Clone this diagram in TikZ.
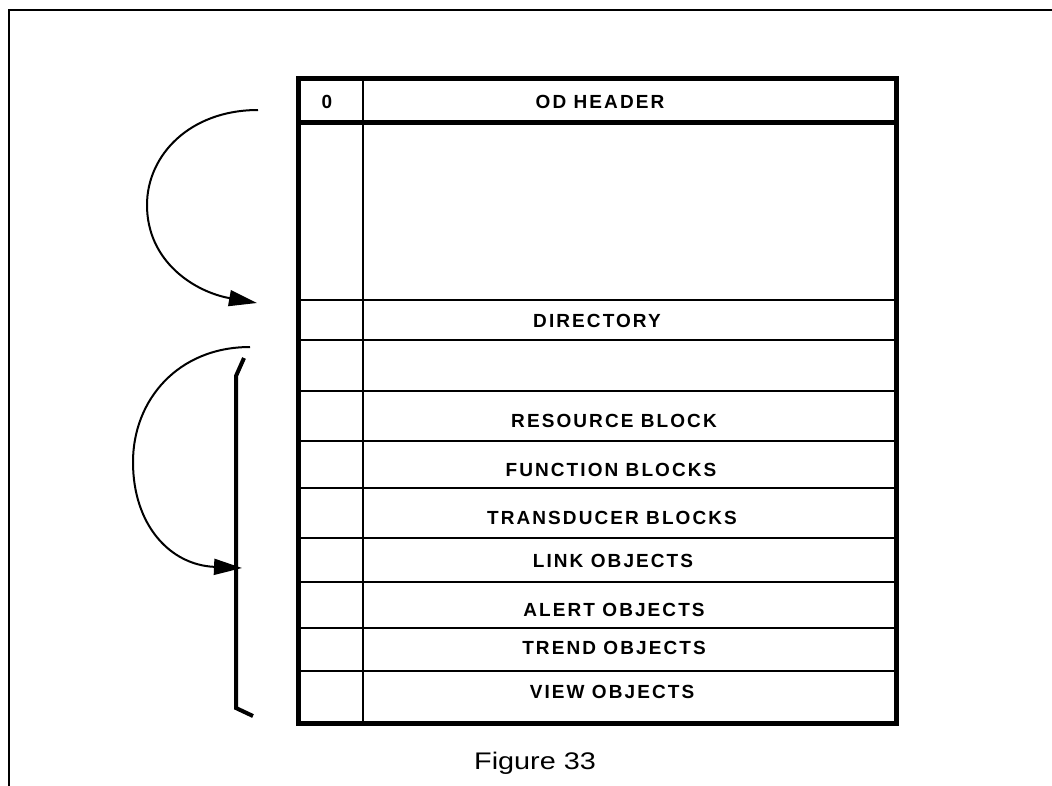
\documentclass[tikz,border=0pt]{standalone}
\usepackage{fontspec}
\setmainfont{Liberation Sans}
\newfontfamily\tabfont[LetterSpace=11]{Liberation Sans}
\usetikzlibrary{arrows.meta}
\begin{document}
\begin{tikzpicture}[x=1pt,y=-1pt,
  lbl/.style={inner sep=0pt,font=\tabfont\bfseries\fontsize{19}{21}\selectfont},
  thick line/.style={line width=5pt},
  row line/.style={line width=2.5pt},
  arc line/.style={line width=2pt,-{Triangle[length=28pt,width=16pt]}}]
\useasboundingbox (0,0) rectangle (1052,785);
% outer frame
\draw[line width=2pt] (9,795) -- (9,10) -- (1062,10);
% table
\draw[row line] (298,300) -- (896,300);
\foreach \yy in {340,391,441,488,538,582,628,671}
  \draw[row line] (298,\yy) -- (896,\yy);
\draw[line width=2pt] (363,78) -- (363,723);
\draw[thick line] (298,122) -- (896,122);
\draw[thick line] (298,78) rectangle (896,723);
% texts
\node[lbl] (zero) at (327,102) {0};
\node[lbl] (od) at (600,102) {OD HEADER};
\node[lbl] (dir) at (597,321) {DIRECTORY};
\node[lbl] (res) at (614,421) {RESOURCE BLOCK};
\node[lbl] (fun) at (611,470) {FUNCTION BLOCKS};
\node[lbl] (tra) at (612,518) {TRANSDUCER BLOCKS};
\node[lbl] (lnk) at (613,561) {LINK OBJECTS};
\node[lbl] (alr) at (614,610) {ALERT OBJECTS};
\node[lbl] (trd) at (614,648) {TREND OBJECTS};
\node[lbl] (vw) at (612,692) {VIEW OBJECTS};
\node[inner sep=0pt,font=\fontsize{24}{26}\selectfont,xscale=1.2] (cap) at (535,763) {Figure 33};
% arcs
\coordinate (a1s) at (258,110);
\coordinate (a1m) at (147,205);
\coordinate (a1e) at (257,303);
\draw[arc line] (a1s) .. controls (190,110) and (147,155) .. (a1m)
  .. controls (147,262) and (195,292) .. (a1e);
\coordinate (a2s) at (250,347);
\coordinate (a2m) at (133,462);
\coordinate (a2e) at (242,568);
\draw[arc line] (a2s) .. controls (178,347) and (133,400) .. (a2m)
  .. controls (133,525) and (170,565) .. (a2e);
% bracket
\coordinate (b1) at (244,358);
\coordinate (b2) at (236,376);
\coordinate (b3) at (236,708);
\coordinate (b4) at (253,716);
\draw[line width=4pt,line join=miter] (b1) -- (b2) -- (b3) -- (b4);
\end{tikzpicture}
\end{document}
